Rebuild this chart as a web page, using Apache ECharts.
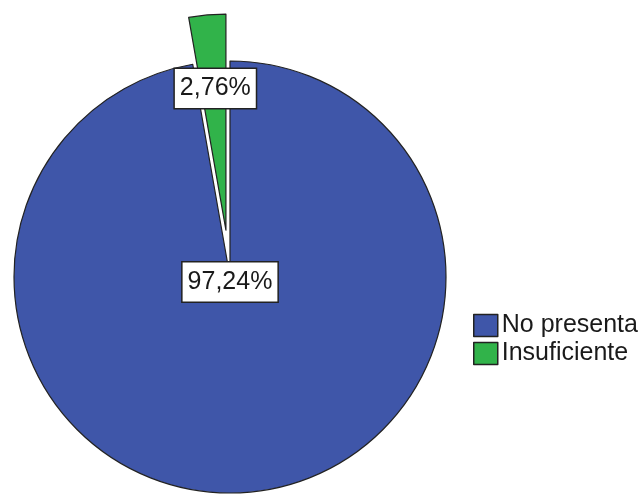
<!DOCTYPE html>
<html>
<head>
<meta charset="utf-8">
<script src="https://cdn.jsdelivr.net/npm/echarts@6/dist/echarts.min.js"></script>
<style>
  html, body { margin: 0; padding: 0; background: #fff; }
  #chart { width: 640px; height: 500px; }
</style>
</head>
<body>
<div id="chart"></div>
<script>
// Categories and their percentages
const categories = ['No presenta', 'Insuficiente'];
const percentages = [97.24, 2.76];
const colors = ['#3F56A9', '#31B34A'];

const chart = echarts.init(document.getElementById('chart'), null, { renderer: 'canvas' });

const fmt = v => v.toFixed(2).replace('.', ',') + '%';

const data = categories.map((name, i) => ({
  name: name,
  value: percentages[i],
  selected: i === 1,
  itemStyle: { color: colors[i] },
  label: { position: i === 0 ? 'center' : 'inside' }
}));

chart.setOption({
  animation: false,
  legend: {
    orient: 'vertical',
    left: 473,
    top: 313,
    padding: 0,
    itemGap: 3,
    itemWidth: 24,
    itemHeight: 22,
    icon: 'rect',
    selectedMode: false,
    itemStyle: { borderColor: '#222', borderWidth: 1.5 },
    textStyle: { fontFamily: 'Liberation Sans, Arial, sans-serif', fontSize: 25, color: '#1a1a1a', padding: [0, 0, 0, -1] },
    data: categories
  },
  series: [{
    type: 'pie',
    center: [230, 277],
    radius: 216,
    startAngle: 90,
    clockwise: true,
    selectedMode: 'single',
    selectedOffset: 47,
    avoidLabelOverlap: false,
    emphasis: { disabled: true },
    itemStyle: { borderColor: '#222', borderWidth: 1.2 },
    label: {
      show: true,
      formatter: p => fmt(p.value),
      fontFamily: 'Liberation Sans, Arial, sans-serif',
      fontSize: 25,
      color: '#1a1a1a',
      backgroundColor: '#fff',
      borderColor: '#222',
      borderWidth: 1.5,
      padding: [8, 5, 6, 5]
    },
    labelLine: { show: false },
    labelLayout: p => p.dataIndex === 1 ? { dx: -1, dy: -31 } : { dy: 5 },
    data: data
  }]
});
</script>
</body>
</html>
